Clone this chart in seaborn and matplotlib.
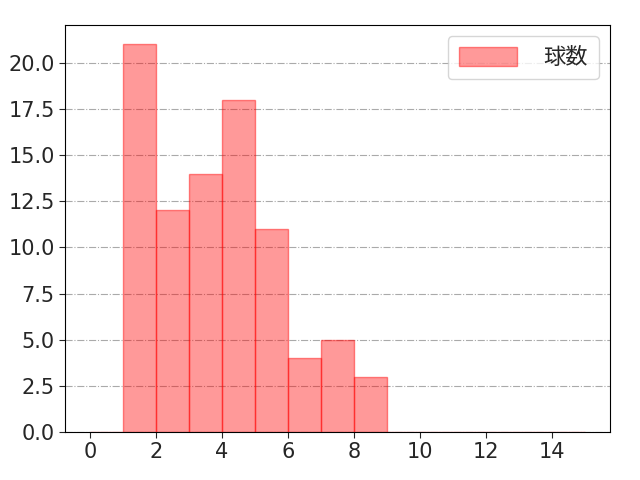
import numpy as np
import pandas as pd
import matplotlib
matplotlib.use('Agg')
import matplotlib.pyplot as plt
import seaborn as sns

# pitch-count groups and how many times each occurred
pitch_groups = [1, 2, 3, 4, 5, 6, 7, 8]
group_counts = [21, 12, 14, 18, 11, 4, 5, 3]

df = pd.DataFrame({'球数': pitch_groups, 'count': group_counts})

sns.set_style('white')
plt.rcParams['font.family'] = ['DejaVu Sans', 'Noto Sans CJK JP']

fig, ax = plt.subplots(figsize=(6.4, 4.8), dpi=100)
sns.histplot(data=df, x='球数', weights='count', binwidth=1, binrange=(0, 15),
             stat='count', facecolor=(1, 0, 0, 0.4), edgecolor=(1, 0, 0, 0.45),
             alpha=None, linewidth=1, label='球数', ax=ax)
ax.set_xlim(-0.75, 15.75)
ax.set_ylim(0, 22.05)
ax.set_xticks(np.arange(0, 15, 2))
ax.set_yticks(np.arange(0, 22, 2.5))
ax.set_xlabel('')
ax.set_ylabel('')
ax.tick_params(labelsize=15, length=4, direction='out', bottom=True, left=True)
ax.grid(axis='y', linestyle='-.', color='#aaaaaa', linewidth=0.8)
ax.set_axisbelow(True)
for s in ax.spines.values():
    s.set_color('black')
    s.set_linewidth(0.8)
    s.set_zorder(3)
ax.legend(fontsize=16, loc='upper right', borderpad=0.5, handlelength=2.6,
          handleheight=0.9, handletextpad=1.2)
fig.subplots_adjust(left=0.102, right=0.953, top=0.948, bottom=0.1)
plt.savefig('out.png', dpi=100)
